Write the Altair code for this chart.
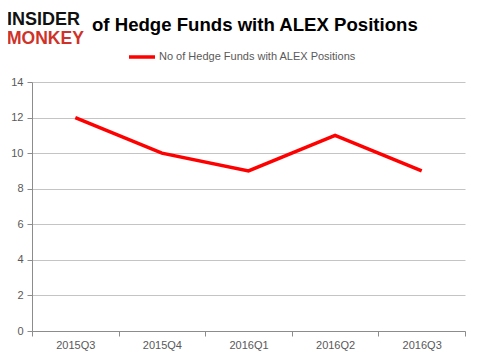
import altair as alt
import pandas as pd

quarters = ["2015Q3", "2015Q4", "2016Q1", "2016Q2", "2016Q3"]
funds = [12, 10, 9, 11, 9]
series_name = "No of Hedge Funds with ALEX Positions"
title_text = "of Hedge Funds with ALEX Positions"
y_ticks = [0, 2, 4, 6, 8, 10, 12, 14]
logo_top = ["INSIDER"]
logo_bottom = ["MONKEY"]

df = pd.DataFrame({"quarter": quarters, "funds": funds, "series": [series_name] * len(quarters)})

FONT = "Liberation Sans"

line = alt.Chart(df).mark_line(strokeWidth=3.5).encode(
    x=alt.X(
        "quarter:N",
        sort=quarters,
        scale=alt.Scale(type="band", paddingInner=0, paddingOuter=0),
        axis=alt.Axis(
            title=None, labelAngle=0, tickBand="extent", tickSize=5,
            domainColor="#8c8c8c", tickColor="#8c8c8c", labelColor="#595959",
            labelFont=FONT, labelFontSize=11, labelPadding=3, grid=False,
        ),
    ),
    y=alt.Y(
        "funds:Q",
        scale=alt.Scale(domain=[0, 14]),
        axis=alt.Axis(
            values=y_ticks, title=None, tickSize=5,
            domainColor="#8c8c8c", tickColor="#8c8c8c", labelColor="#595959",
            labelFont=FONT, labelFontSize=11, labelPadding=4,
            gridColor="#c4c4c4", gridWidth=1,
        ),
    ),
    color=alt.Color(
        "series:N",
        scale=alt.Scale(domain=[series_name], range=["#ff0000"]),
        legend=alt.Legend(
            title=None, orient="none", legendX=95, legendY=-40,
            symbolType="stroke", symbolSize=676, symbolStrokeWidth=3.5,
            labelFont=FONT, labelFontSize=11, labelColor="#595959", labelOffset=2,
            labelLimit=0,
        ),
    ),
)

title = alt.Chart(pd.DataFrame({"t": [title_text]})).mark_text(
    align="left", baseline="alphabetic", font=FONT, fontSize=18.6, fontWeight="bold", color="#000000"
).encode(text="t:N", x=alt.value(60), y=alt.value(-51))

logo1 = alt.Chart(pd.DataFrame({"t": logo_top})).mark_text(
    align="left", baseline="alphabetic", font=FONT, fontSize=18, fontWeight="bold", color="#111111"
).encode(text="t:N", x=alt.value(-25), y=alt.value(-57))

logo2 = alt.Chart(pd.DataFrame({"t": logo_bottom})).mark_text(
    align="left", baseline="alphabetic", font=FONT, fontSize=17.5, fontWeight="bold", color="#cf3228"
).encode(text="t:N", x=alt.value(-25), y=alt.value(-38))

chart = alt.layer(line, title, logo1, logo2).properties(
    width=433, height=249,
    autosize=alt.AutoSizeParams(type="none"),
    padding={"left": 24, "top": 74, "right": 6, "bottom": 23},
).configure_view(stroke=None)

chart.save("out.html", embed_options={"renderer": "svg", "actions": False})
